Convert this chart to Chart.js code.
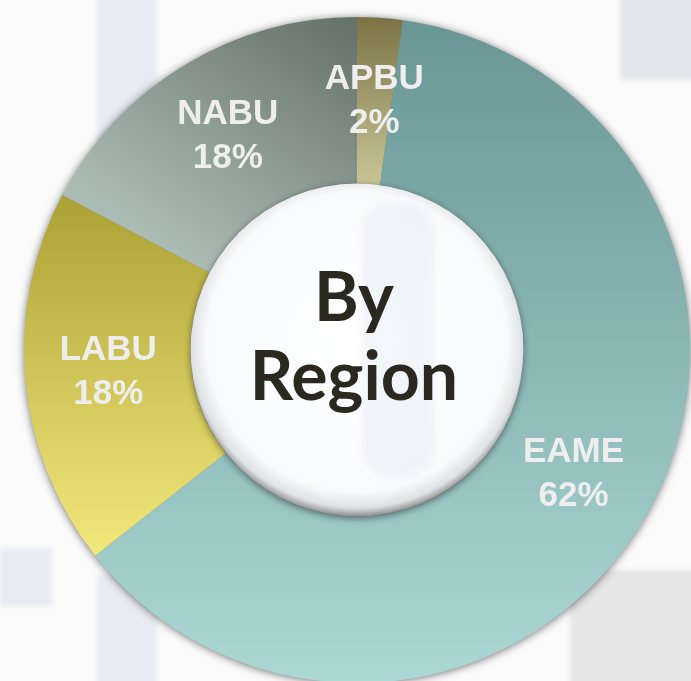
<!DOCTYPE html>
<html>
<head>
<meta charset="utf-8">
<title>By Region</title>
<script src="https://cdn.jsdelivr.net/npm/chart.js@4.4.0/dist/chart.umd.min.js"></script>
<style>
  html, body { margin: 0; padding: 0; }
  body {
    width: 691px; height: 681px; overflow: hidden; position: relative;
    background: #fafbfa;
  }
  .bg { position: absolute; background: #e8ecf2; filter: blur(2px); }
  #chartBox { position: absolute; left: 7px; top: 0; width: 700px; height: 700px; }
</style>
</head>
<body>
<!-- faint building photo behind the chart -->
<div class="bg" style="left:97px;top:-10px;width:60px;height:170px;"></div>
<div class="bg" style="left:0;top:548px;width:52px;height:58px;"></div>
<div class="bg" style="left:97px;top:575px;width:60px;height:120px;"></div>
<div class="bg" style="left:620px;top:-10px;width:80px;height:90px;background:#e3e6ea;"></div>
<div class="bg" style="left:570px;top:570px;width:130px;height:120px;background:#e6e6e6;"></div>
<div id="chartBox"><canvas id="chart1"></canvas></div>

<script>
let regionLabels = ['APBU', 'EAME', 'LABU', 'NABU'];
let regionValues = [2.2, 62.2, 18.3, 17.3];
let regionPctText = ['2%', '62%', '18%', '18%'];
let centerTitle = ['By', 'Region'];

// vertical / diagonal gradients for each slice
function sliceGradient(ctx, index, area) {
  var g;
  var top = area.top, bottom = area.bottom;
  if (index == 0) {
    g = ctx.createLinearGradient(0, top, 0, top + 170);
    g.addColorStop(0, '#7b7346');
    g.addColorStop(1, '#cac697');
  } else if (index == 1) {
    g = ctx.createLinearGradient(0, top, 0, bottom);
    g.addColorStop(0, '#699594');
    g.addColorStop(1, '#abd7d5');
  } else if (index == 2) {
    g = ctx.createLinearGradient(0, top + 175, 0, top + 540);
    g.addColorStop(0, '#aba033');
    g.addColorStop(1, '#f2e87b');
  } else {
    g = ctx.createLinearGradient(area.left + 340, top, area.left + 170, top + 250);
    g.addColorStop(0, '#636f68');
    g.addColorStop(1, '#abbcb4');
  }
  return g;
}

const ringShadow = {
  id: 'ringShadow',
  beforeDatasetsDraw(chart) {
    var arc = chart.getDatasetMeta(0).data[0];
    if (!arc) return;
    var ctx = chart.ctx;
    ctx.save();
    ctx.shadowColor = 'rgba(0,0,0,0.65)';
    ctx.shadowBlur = 10;
    ctx.shadowOffsetY = 1;
    ctx.fillStyle = '#7a8580';
    ctx.beginPath();
    ctx.arc(arc.x, arc.y, arc.outerRadius - 1, 0, Math.PI * 2);
    ctx.fill();
    ctx.restore();
  },
  afterDatasetsDraw(chart) {
    var meta = chart.getDatasetMeta(0);
    var arc = meta.data[0];
    var ctx = chart.ctx;
    var cx = arc.x, cy = arc.y, r = arc.innerRadius;

    // centre disk with bevel
    ctx.save();
    ctx.shadowColor = 'rgba(0,0,0,0.45)';
    ctx.shadowBlur = 7;
    ctx.shadowOffsetY = 2;
    var rg = ctx.createRadialGradient(cx, cy - 8, 0, cx, cy - 8, r + 8);
    rg.addColorStop(0, '#ffffff');
    rg.addColorStop(0.86, '#f8fafc');
    rg.addColorStop(0.95, '#dfe2e5');
    rg.addColorStop(1, '#8e8e8e');
    ctx.fillStyle = rg;
    ctx.beginPath();
    ctx.arc(cx, cy, r, 0, Math.PI * 2);
    ctx.fill();
    ctx.restore();

    // faint window bar seen through the disk
    ctx.save();
    ctx.beginPath();
    ctx.arc(cx, cy, r - 8, 0, Math.PI * 2);
    ctx.clip();
    ctx.filter = 'blur(3px)';
    ctx.fillStyle = 'rgba(205,218,235,0.22)';
    ctx.beginPath();
    ctx.roundRect(cx + 5, cy - r + 20, 72, 2 * r - 60, 30);
    ctx.fill();
    ctx.restore();

    // slice labels
    ctx.save();
    ctx.fillStyle = '#eeeeee';
    ctx.font = 'bold 35px "Liberation Sans", Arial, sans-serif';
    ctx.textAlign = 'center';
    ctx.textBaseline = 'middle';
    meta.data.forEach(function(el, i) {
      var p = el.tooltipPosition();
      ctx.fillText(regionLabels[i], p.x, p.y - 22);
      ctx.fillText(regionPctText[i], p.x, p.y + 22);
    });
    ctx.restore();

    // centre title
    ctx.save();
    ctx.fillStyle = '#2b2820';
    ctx.font = 'bold 68px Lato, "DejaVu Sans", sans-serif';
    ctx.textAlign = 'center';
    ctx.textBaseline = 'alphabetic';
    ctx.fillText(centerTitle[0], cx - 3, cy - 29);
    ctx.fillText(centerTitle[1], cx - 3, cy + 50);
    ctx.restore();
  }
};

var ctx = document.getElementById('chart1').getContext('2d');
var myChart = new Chart(ctx, {
  type: 'doughnut',
  data: {
    labels: regionLabels,
    datasets: [{
      data: regionValues,
      backgroundColor: function(c) {
        var area = c.chart.chartArea;
        if (!area) return '#888';
        return sliceGradient(c.chart.ctx, c.dataIndex, area);
      },
      borderWidth: 0,
    }]
  },
  options: {
    responsive: true,
    maintainAspectRatio: false,
    animation: false,
    cutout: '50%',
    layout: { padding: 17 },
    plugins: {
      legend: { display: false },
      tooltip: { enabled: false },
    },
  },
  plugins: [ringShadow],
});
</script>
</body>
</html>
